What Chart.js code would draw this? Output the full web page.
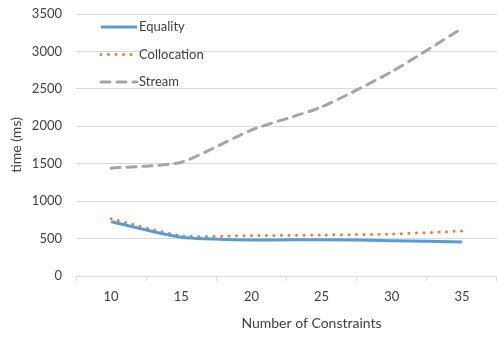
<!DOCTYPE html>
<html>
<head>
<meta charset="utf-8">
<script src="https://cdn.jsdelivr.net/npm/chart.js@4.4.1/dist/chart.umd.min.js"></script>
<style>
  html, body { margin: 0; padding: 0; background: #fff; }
  #wrap { width: 497px; height: 337px; }
</style>
</head>
<body>
<div id="wrap"><canvas id="timeChart"></canvas></div>
<script>
const constraints = ['10', '15', '20', '25', '30', '35'];
const equality = [725, 517, 481, 485, 472, 454];
const collocation = [766, 538, 540, 548, 561, 601];
const stream = [1440, 1520, 1950, 2258, 2730, 3307];
const yMax = 3500;
const yStep = 500;

const textColor = '#404040';
const gridColor = '#D9D9D9';
const fontName = 'Lato';

// legend drawn inside the plot, top-left, one item per row
const insideLegend = {
    id: 'insideLegend',
    afterDatasetsDraw(chart) {
        const ctx = chart.ctx;
        const area = chart.chartArea;
        chart.data.datasets.forEach(function (ds, i) {
            const y = area.top + 13 + i * 27.5;
            const x0 = area.left + 25;
            ctx.save();
            ctx.strokeStyle = ds.borderColor;
            ctx.lineWidth = ds.borderWidth;
            ctx.lineCap = ds.borderCapStyle || 'butt';
            ctx.setLineDash(ds.borderDash || []);
            ctx.beginPath();
            ctx.moveTo(x0, y);
            ctx.lineTo(x0 + 36, y);
            ctx.stroke();
            ctx.setLineDash([]);
            ctx.fillStyle = textColor;
            ctx.font = '13px ' + fontName;
            ctx.textBaseline = 'middle';
            ctx.fillText(ds.label, x0 + 38, y);
            ctx.restore();
        });
    }
};

// x axis title sits a little right of the plot centre, as in the original
const xTitle = {
    id: 'xTitle',
    afterDraw(chart) {
        const ctx = chart.ctx;
        const area = chart.chartArea;
        ctx.save();
        ctx.fillStyle = textColor;
        ctx.font = '14px ' + fontName;
        ctx.textAlign = 'center';
        ctx.textBaseline = 'middle';
        ctx.fillText('Number of Constraints', (area.left + area.right) / 2 + 25, 323);
        ctx.restore();
    }
};

const ctx = document.getElementById('timeChart').getContext('2d');

new Chart(ctx, {
    type: 'line',
    data: {
        labels: constraints,
        datasets: [{
            label: 'Equality',
            data: equality,
            borderColor: '#5B9BD5',
            borderWidth: 3,
            borderCapStyle: 'butt'
        }, {
            label: 'Collocation',
            data: collocation,
            borderColor: '#ED7D31',
            borderWidth: 3,
            borderDash: [0, 7.5],
            borderCapStyle: 'round'
        }, {
            label: 'Stream',
            data: stream,
            borderColor: '#A5A5A5',
            borderWidth: 3,
            borderDash: [9, 7],
            borderCapStyle: 'round'
        }]
    },
    plugins: [insideLegend, xTitle],
    options: {
        responsive: true,
        maintainAspectRatio: false,
        animation: false,
        layout: { padding: { top: 14, right: 0, bottom: 0, left: 0 } },
        elements: {
            point: { radius: 0 },
            line: { tension: 0.2, fill: false }
        },
        plugins: {
            legend: { display: false },
            tooltip: { enabled: false }
        },
        scales: {
            x: {
                offset: true,
                grid: {
                    offset: true,
                    drawOnChartArea: false,
                    color: gridColor,
                    tickLength: 5
                },
                border: { color: gridColor },
                ticks: {
                    color: textColor,
                    font: { family: fontName, size: 13 },
                    padding: 8,
                    maxRotation: 0
                },
                afterFit: function (scale) { scale.height = 61; }
            },
            y: {
                min: 0,
                max: yMax,
                grid: { color: gridColor, drawTicks: false },
                border: { display: false },
                ticks: {
                    stepSize: yStep,
                    color: textColor,
                    font: { family: fontName, size: 13 },
                    padding: 14,
                    callback: function (v) { return String(v); }
                },
                title: {
                    display: true,
                    text: 'time (ms)',
                    color: textColor,
                    font: { family: fontName, size: 14 },
                    padding: { top: 8, bottom: 0 }
                },
                afterFit: function (scale) {
                    scale.width = 76;
                    scale.paddingTop = 0;
                    scale.paddingBottom = 0;
                }
            }
        }
    }
});
</script>
</body>
</html>
